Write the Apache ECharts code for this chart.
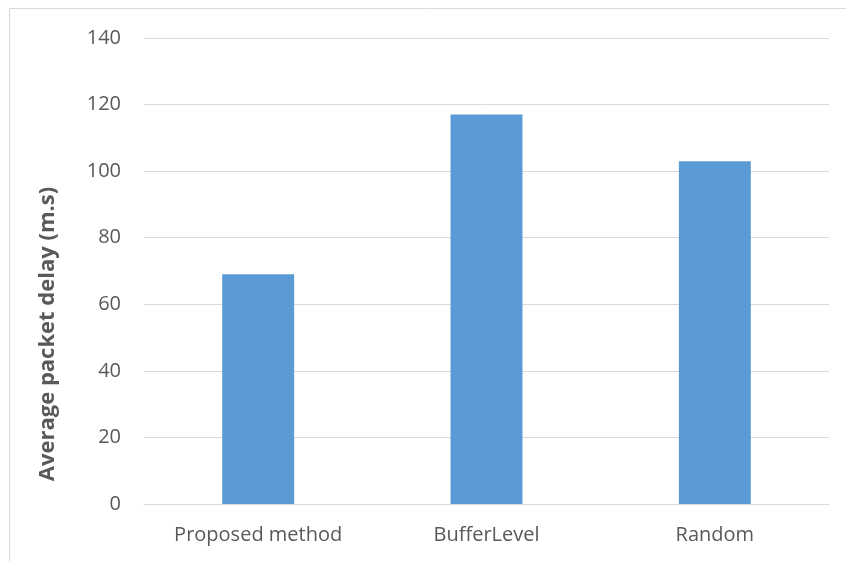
<!DOCTYPE html>
<html>
<head>
<meta charset="utf-8">
<script src="https://cdn.jsdelivr.net/npm/echarts@6/dist/echarts.min.js"></script>
<style>
  html, body { margin: 0; padding: 0; background: #fff; }
  #chart { width: 846px; height: 561px; }
</style>
</head>
<body>
<div id="chart"></div>
<script>
// Average packet delay per scheduling scheme
const categories = ['Proposed method', 'BufferLevel', 'Random'];
const delayValues = [69, 117, 103];
const yTicks = { min: 0, max: 140, interval: 20 };
const yTitle = 'Average packet delay (m.s)';

const FONT = '"Open Sans"';
const chart = echarts.init(document.getElementById('chart'), null, { renderer: 'canvas' });

chart.setOption({
  animation: false,
  backgroundColor: '#ffffff',
  grid: { left: 144, right: 17, top: 38, bottom: 57, containLabel: false },
  graphic: [
    {
      type: 'rect',
      shape: { x: 9.5, y: 8.5, width: 900, height: 600 },
      style: { fill: 'none', stroke: '#d9d9d9', lineWidth: 1 },
      silent: true
    },
    {
      type: 'text',
      x: 48, y: 334,
      rotation: Math.PI / 2,
      style: {
        text: yTitle,
        fontFamily: FONT,
        fontSize: 22,
        fontWeight: 'bold',
        fill: '#595959',
        align: 'center',
        verticalAlign: 'middle'
      }
    }
  ],
  xAxis: {
    type: 'category',
    data: categories,
    axisLine: { show: true, lineStyle: { color: '#d9d9d9', width: 1 } },
    axisTick: { show: false },
    axisLabel: { color: '#595959', fontFamily: FONT, fontSize: 20, margin: 21 }
  },
  yAxis: {
    type: 'value',
    min: yTicks.min,
    max: yTicks.max,
    interval: yTicks.interval,
    axisLine: { show: false },
    axisTick: { show: false },
    splitLine: { lineStyle: { color: '#d9d9d9', width: 1 } },
    axisLabel: { color: '#595959', fontFamily: FONT, fontSize: 20, margin: 23 }
  },
  series: [{
    type: 'bar',
    data: delayValues,
    barWidth: '31.5%',
    itemStyle: { color: '#5b9bd5' }
  }]
});
</script>
</body>
</html>
